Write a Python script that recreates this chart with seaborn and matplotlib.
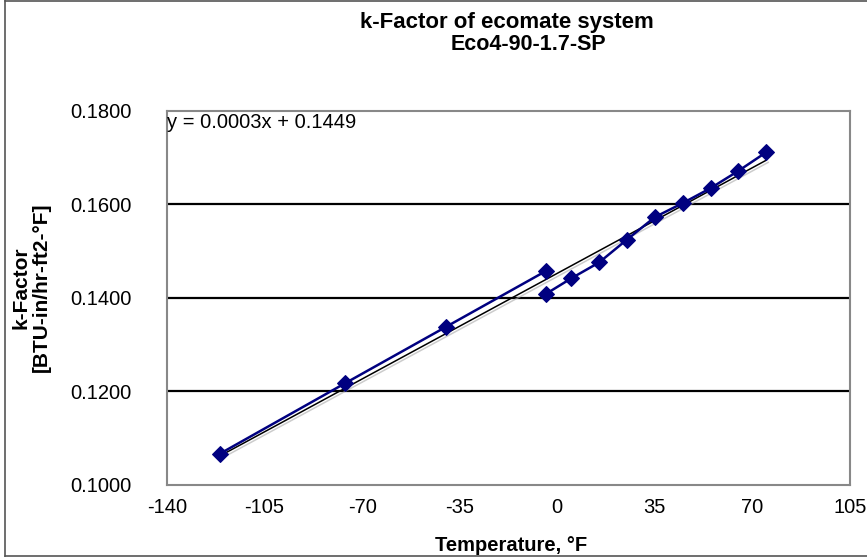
import matplotlib
matplotlib.use("Agg")
import matplotlib.pyplot as plt
import matplotlib.patheffects as pe
from matplotlib.lines import Line2D
import numpy as np
import pandas as pd
import seaborn as sns

# ---- data ----
temp_seg1 = [-121, -76, -40, -4]
kfac_seg1 = [0.1067, 0.1218, 0.1338, 0.1458]
temp_seg2 = [-4, 5, 15, 25, 35, 45, 55, 65, 75]
kfac_seg2 = [0.1409, 0.1442, 0.1476, 0.1525, 0.1573, 0.1603, 0.1635, 0.1672, 0.1712]
x_ticks = [-140, -105, -70, -35, 0, 35, 70, 105]
y_ticks = [0.1000, 0.1200, 0.1400, 0.1600, 0.1800]
title_line1 = "k-Factor of ecomate system"
title_line2 = "Eco4-90-1.7-SP"
equation_text = "y = 0.0003x + 0.1449"
x_label = "Temperature, °F"
y_label = "k-Factor\n[BTU-in/hr-ft2-°F]"

df = pd.DataFrame({
    "temp": temp_seg1 + temp_seg2,
    "k": kfac_seg1 + kfac_seg2,
    "seg": [1] * len(temp_seg1) + [2] * len(temp_seg2),
})

sns.set_style("white")
plt.rcParams["font.family"] = ["Liberation Sans", "DejaVu Sans"]
plt.rcParams["text.color"] = "black"
plt.rcParams["axes.labelcolor"] = "black"

W, H = 867, 557
fig = plt.figure(figsize=(W / 100, H / 100), dpi=100)
ax = fig.add_axes([167 / W, 1 - 485 / H, (850 - 167) / W, (485 - 111) / H])

navy = "#000080"

# trendline (linear fit over all points)
sns.regplot(data=df, x="temp", y="k", ax=ax, scatter=False, ci=None, truncate=True,
            line_kws=dict(color="black", lw=1.1, zorder=3,
                          path_effects=[pe.SimpleLineShadow(offset=(1.5, -1.5), shadow_color="#aaaaaa", alpha=0.6),
                                        pe.Normal()]))

# data series
sns.lineplot(data=df, x="temp", y="k", units="seg", estimator=None, sort=False,
             color=navy, lw=1.8, marker="D", markersize=8, markeredgecolor=navy,
             markerfacecolor=navy, ax=ax, zorder=4)

ax.set_xlim(-140, 105)
ax.set_ylim(0.1, 0.18)
ax.set_xticks(x_ticks)
ax.set_xticklabels([str(v) for v in x_ticks])
ax.set_yticks(y_ticks)
ax.set_yticklabels([f"{v:.4f}" for v in y_ticks])
ax.tick_params(axis="both", labelsize=14.5, colors="#888888", labelcolor="black", width=1.5)
ax.tick_params(axis="x", direction="inout", length=8.6, pad=5)
ax.tick_params(axis="y", direction="out", length=6.5, pad=19)
ax.set_xlabel("")
ax.set_ylabel("")

for y in y_ticks[1:-1]:
    ax.axhline(y, color="black", lw=1.6, zorder=1)

for s in ax.spines.values():
    s.set_color("#888888")
    s.set_linewidth(1.5)

ax.text(0.0, (485 - 128) / (485 - 111), equation_text, transform=ax.transAxes,
        ha="left", va="baseline", fontsize=14.5, color="black")

fig.text(507 / W, 1 - 27.7 / H, title_line1, ha="center", va="baseline",
         fontsize=16, fontweight="bold", color="black")
fig.text(528 / W, 1 - 50 / H, title_line2, ha="center", va="baseline",
         fontsize=15.5, fontweight="bold", color="black")
fig.text(511 / W, 1 - 551 / H, x_label, ha="center", va="baseline",
         fontsize=14.5, fontweight="bold", color="black")
fig.text(31 / W, 1 - 287.5 / H, y_label, ha="center", va="center", rotation=90,
         multialignment="center", fontsize=15, fontweight="bold", linespacing=1.05,
         color="black")

# outer chart border (left, top, bottom)
for xs, ys in [([5 / W, 5 / W], [0.0, 1.0]), ([5 / W, 1.0], [1 - 0.5 / H, 1 - 0.5 / H]),
               ([5 / W, 1.0], [1 - 556 / H, 1 - 556 / H])]:
    fig.add_artist(Line2D(xs, ys, transform=fig.transFigure, color="#555555", lw=1.2))

fig.savefig("out.png", dpi=100)
